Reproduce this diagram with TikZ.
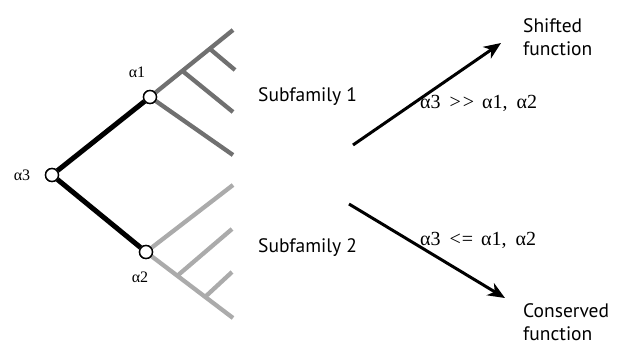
\documentclass[tikz,border=0pt]{standalone}
\usepackage{fontspec}
\setmainfont{Liberation Serif}
\newfontfamily\labelsans{PT Sans}
\usetikzlibrary{arrows.meta,calc}

\definecolor{famA}{HTML}{707070}
\definecolor{famB}{HTML}{ABABAB}

\begin{document}
\begin{tikzpicture}[x=1pt,y=-1pt,
  rate/.style={circle,draw=black,fill=white,line width=1.4pt,minimum size=13pt,inner sep=0pt},
  trunk/.style={line width=5pt,black},
  branchA/.style={line width=4.3pt,famA},
  branchB/.style={line width=4.3pt,famB},
  shiftarrow/.style={line width=3pt,-{Stealth[length=17pt,width=14pt,inset=5pt]}},
  greek/.style={inner sep=0pt,font=\fontsize{16}{18}\selectfont},
  cond/.style={inner sep=0pt,anchor=west,font=\fontsize{20}{22}\selectfont},
  sanslbl/.style={inner sep=0pt,anchor=west,align=left,font=\labelsans\fontsize{19.5}{23}\selectfont}]

\useasboundingbox (0,0) rectangle (620,346);

% ancestral and subfamily rate nodes
\node[rate] (a3) at (52,175) {};
\node[rate] (a1) at (150,97) {};
\node[rate] (a2) at (146,252) {};

% subfamily 1 tips and internal branch points
\coordinate (t1) at (233,30);
\coordinate (t4) at (233,155);
\coordinate (b1) at ($(a1)!0.39!(t1)$);
\coordinate (b2) at ($(a1)!0.72!(t1)$);
\coordinate (t3) at (233,112);
\coordinate (t2) at (235,70);

% subfamily 2 tips and internal branch points
\coordinate (u1) at (233,185);
\coordinate (u4) at (233,318);
\coordinate (c1) at ($(a2)!0.36!(u4)$);
\coordinate (c2) at ($(a2)!0.68!(u4)$);
\coordinate (u2) at (232,229);
\coordinate (u3) at (232,272);

\draw[branchA] (a1) -- (t1);
\draw[branchA] (a1) -- (t4);
\draw[branchA] (b1) -- (t3);
\draw[branchA] (b2) -- (t2);

\draw[branchB] (a2) -- (u1);
\draw[branchB] (a2) -- (u4);
\draw[branchB] (c1) -- (u2);
\draw[branchB] (c2) -- (u3);

\draw[trunk] (a3) -- (a1);
\draw[trunk] (a3) -- (a2);

% redraw the rate nodes on top of the branches
\node[rate] at (a3) {};
\node[rate] at (a1) {};
\node[rate] at (a2) {};

% rate labels
\node[greek] (l3) at (22,175) {α3};
\node[greek] (l1) at (137,72) {α1};
\node[greek] (l2) at (140,277) {α2};

% subfamily labels
\node[sanslbl] (s1) at (258,97) {Subfamily 1};
\node[sanslbl] (s2) at (258,248) {Subfamily 2};

% outcome arrows
\coordinate (p1) at (353,145);
\coordinate (q1) at (501,43);
\coordinate (p2) at (349,204);
\coordinate (q2) at (505,298);
\draw[shiftarrow] (p1) -- (q1);
\draw[shiftarrow] (p2) -- (q2);

\node[cond] (r1) at (420,103) {α3\hspace{9pt}>\kern2pt>\hspace{8pt}α1,\hspace{9pt}α2};
\node[cond] (r2) at (420,240) {α3\hspace{9pt}<\kern1pt=\hspace{8pt}α1,\hspace{9pt}α2};

\node[sanslbl] (o1) at (523,37) {Shifted\\function};
\node[sanslbl] (o2) at (523,322) {Conserved\\function};
\end{tikzpicture}
\end{document}
